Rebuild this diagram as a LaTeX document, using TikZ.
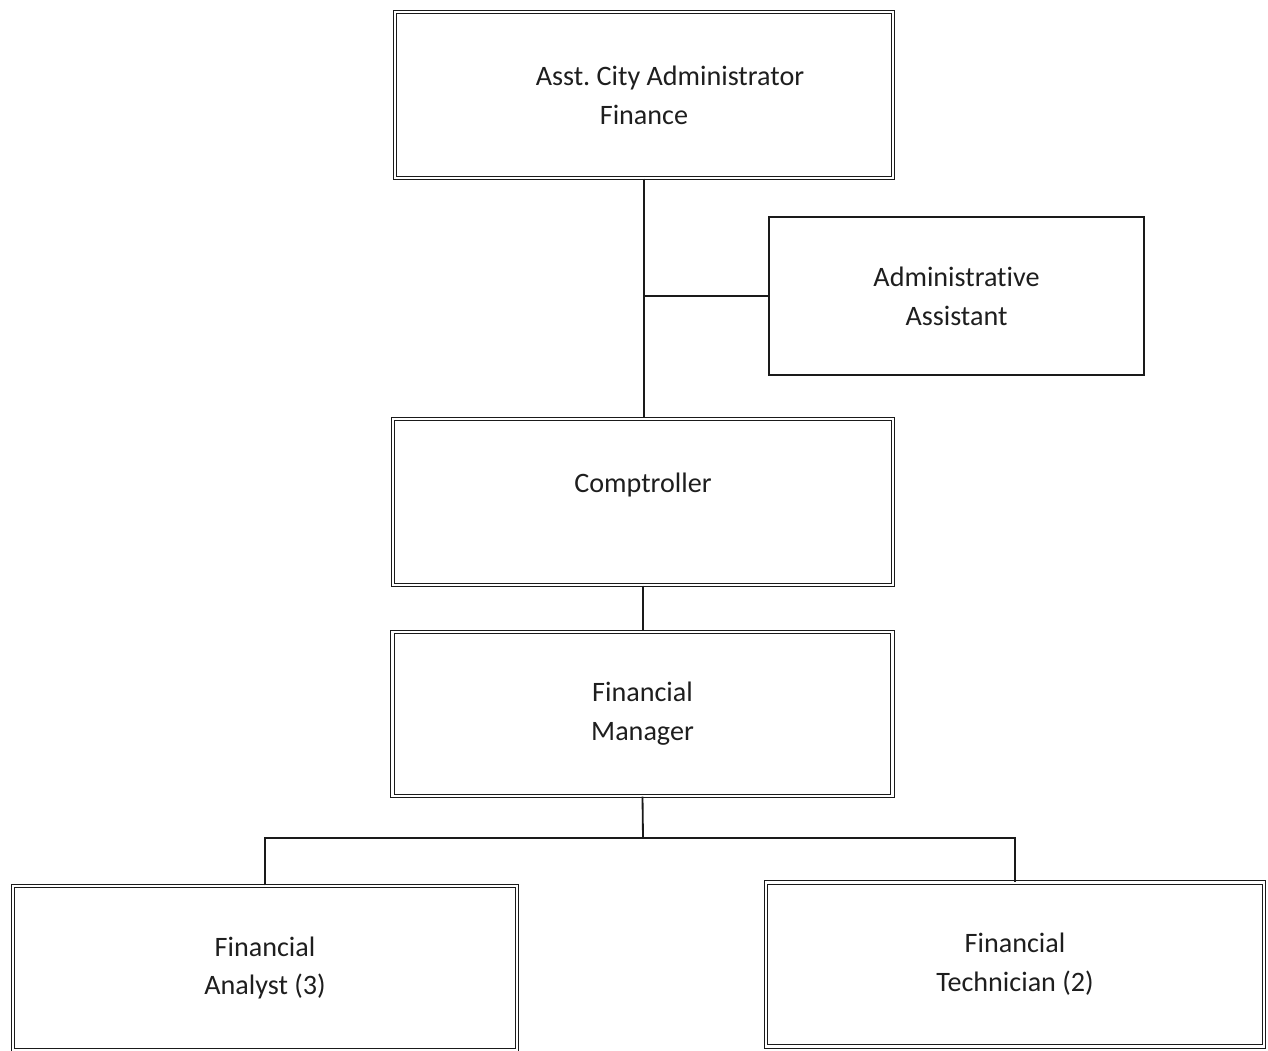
\documentclass[tikz,border=0pt]{standalone}
\usepackage{fontspec}
\setmainfont{Carlito}[Ligatures=NoCommon]
\usepackage{tikz}
\usetikzlibrary{positioning}
\definecolor{ocLine}{HTML}{1A1A1A}
\definecolor{ocText}{HTML}{1E1E1E}

\begin{document}
\begin{tikzpicture}[x=0.025cm,y=-0.025cm,
    orgbox/.style={draw=ocLine,line width=0.7pt,double,double distance=2pt,
      align=center,text=ocText,inner sep=0pt,
      font=\fontsize{20}{27.7}\selectfont},
    plainbox/.style={draw=ocLine,line width=1pt,align=center,text=ocText,
      inner sep=0pt,font=\fontsize{20}{27.7}\selectfont},
    link/.style={draw=ocLine,line width=1.3pt}]
    \useasboundingbox (0,0) rectangle (1268,1051);
    \node[orgbox,minimum width=12.45cm,minimum height=4.15cm] (acaF) at (644,95)
      {\hspace*{1.3cm}Asst.\ City Administrator\\Finance};
    \node[plainbox,minimum width=9.375cm,minimum height=3.95cm] (adminAsst) at (956.5,296)
      {Administrative\\Assistant};
    \node[orgbox,minimum width=12.5cm,minimum height=4.15cm] (comptroller) at (643,502)
      {Comptroller\\~};
    \node[orgbox,minimum width=12.5cm,minimum height=4.1cm] (finMgr) at (642.5,714)
      {Financial\\Manager};
    \node[orgbox,minimum width=12.6cm,minimum height=4.1cm] (finAnalyst) at (265,968)
      {Financial\\Analyst (3)};
    \node[orgbox,minimum width=12.45cm,minimum height=4.1cm] (finTech) at (1015,964.5)
      {Financial\\Technician (2)};
    \coordinate (split) at (643,838);
    \draw[link] (acaF.south) -- (acaF.south |- comptroller.north);
    \draw[link] (adminAsst.west) -- (adminAsst.west -| acaF.south);
    \draw[link] (comptroller.south) -- (comptroller.south |- finMgr.north);
    \draw[link] (finMgr.south) -- (split);
    \draw[link] (finAnalyst.north) |- (split) -| (finTech.north);
  \end{tikzpicture}
\end{document}
